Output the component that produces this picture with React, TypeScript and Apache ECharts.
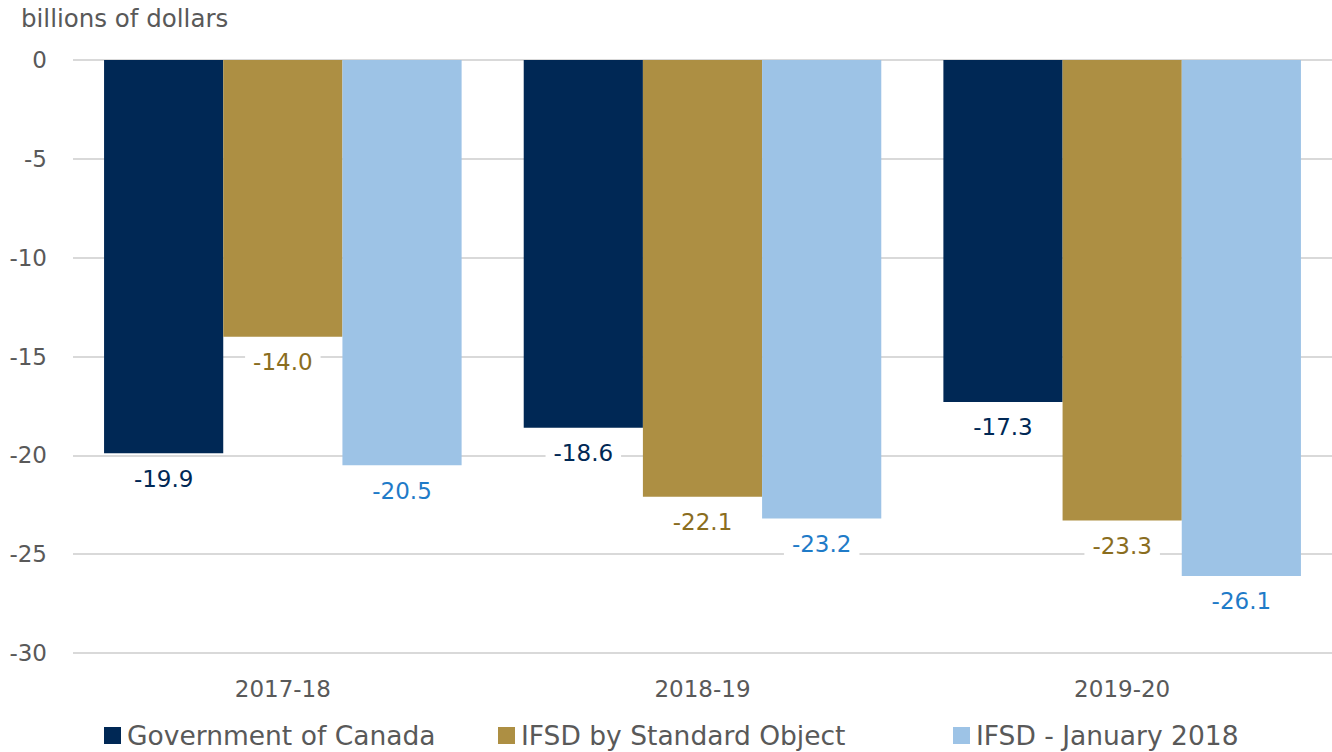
import React, { useEffect, useRef } from "react";
import * as echarts from "echarts";

const categories = ["2017-18", "2018-19", "2019-20"];
const seriesNames = ["Government of Canada", "IFSD by Standard Object", "IFSD - January 2018"];
const govCanada = [-19.9, -18.6, -17.3];
const ifsdStdObject = [-14.0, -22.1, -23.3];
const ifsdJan2018 = [-20.5, -23.2, -26.1];
const yTicks = { min: -30, max: 0, interval: 5 };

const barColors = ["#002855", "#AD8F43", "#9DC3E6"];
const labelColors = ["#002855", "#8A6D1E", "#1F7BC8"];
const FONT = "'DejaVu Sans', sans-serif";

export default function App() {
  const ref = useRef<HTMLDivElement>(null);
  useEffect(() => {
    if (!ref.current) return;
    const chart = echarts.init(ref.current, undefined, { renderer: "svg" });
    const values = [govCanada, ifsdStdObject, ifsdJan2018];
    const legendLefts = [104, 498, 953];
    chart.setOption({
      animation: false,
      textStyle: { fontFamily: FONT },
      title: {
        text: "billions of dollars",
        left: 21,
        top: 6,
        padding: 0,
        textStyle: { fontFamily: FONT, fontSize: 24.5, fontWeight: "normal", color: "#595959" },
      },
      legend: seriesNames.map((n, i) => ({
        data: [n],
        left: legendLefts[i],
        top: 722,
        padding: 0,
        itemWidth: 17,
        itemHeight: 17,
        itemGap: 0,
        icon: "rect",
        textStyle: { fontFamily: FONT, fontSize: 26.5, color: "#595959", padding: [0, 0, 0, 1] },
      })),
      grid: { left: 73, right: 0, top: 60, bottom: 99, containLabel: false },
      xAxis: {
        type: "category",
        data: categories,
        axisLine: { show: false },
        axisTick: { show: false },
        axisLabel: { fontFamily: FONT, fontSize: 23, color: "#595959", margin: 24 },
      },
      yAxis: {
        type: "value",
        min: yTicks.min,
        max: yTicks.max,
        interval: yTicks.interval,
        axisLine: { show: false },
        axisTick: { show: false },
        splitLine: { lineStyle: { color: "#D9D9D9", width: 2 } },
        axisLabel: { fontFamily: FONT, fontSize: 23, color: "#595959", margin: 26 },
      },
      series: seriesNames.map((n, i) => ({
        name: n,
        type: "bar",
        data: values[i],
        barGap: "0%",
        barCategoryGap: "14.8%",
        itemStyle: { color: barColors[i] },
        label: {
          show: true,
          position: "bottom",
          distance: 12,
          formatter: (p: any) => p.value.toFixed(1),
          fontFamily: FONT,
          fontSize: 23,
          color: labelColors[i],
          backgroundColor: "#FFFFFF",
          padding: [2, 8],
        },
      })),
    });
    return () => chart.dispose();
  }, []);
  return <div ref={ref} style={{ width: 1332, height: 752, position: "absolute", left: 0, top: 0 }} />;
}
